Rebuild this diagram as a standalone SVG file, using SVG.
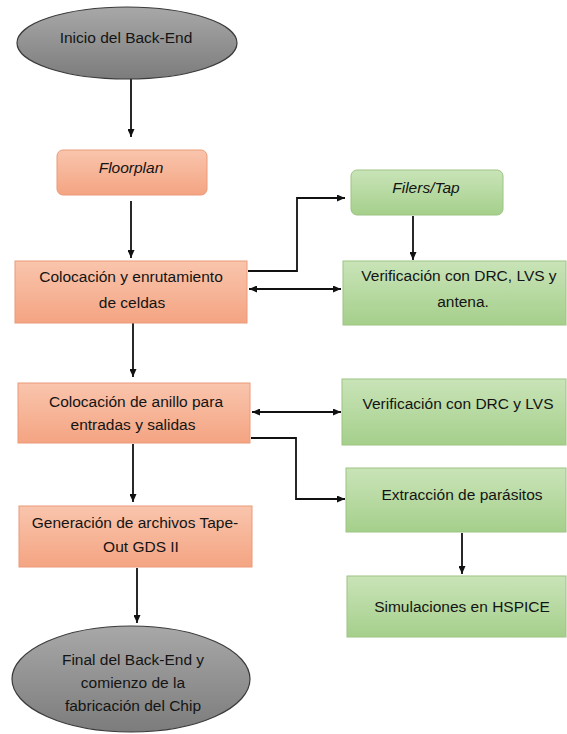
<svg xmlns="http://www.w3.org/2000/svg" width="567" height="734" viewBox="0 0 567 734">
<defs>
<linearGradient id="gGray" x1="0" y1="0" x2="0" y2="1"><stop offset="0" stop-color="#a8a8a8"/><stop offset="1" stop-color="#7c7c7c"/></linearGradient>
<linearGradient id="gSalmon" x1="0" y1="0" x2="0" y2="1"><stop offset="0" stop-color="#f9c5ad"/><stop offset="1" stop-color="#f4a482"/></linearGradient>
<linearGradient id="gGreen" x1="0" y1="0" x2="0" y2="1"><stop offset="0" stop-color="#c9e4b8"/><stop offset="1" stop-color="#a5cf8b"/></linearGradient>
<marker id="ah" viewBox="0 0 8 7" refX="8" refY="3.5" markerWidth="8" markerHeight="7" markerUnits="userSpaceOnUse" orient="auto-start-reverse"><path d="M0,0 L8,3.5 L0,7 z" fill="#111"/></marker>
</defs>
<style>
.t{font-family:"Liberation Sans",Arial,sans-serif;font-size:15.5px;fill:#141414;text-anchor:middle}
.i{font-style:italic}
.ell{fill:url(#gGray);stroke:#3a3a3a;stroke-width:1.2}
.sal{fill:url(#gSalmon);stroke:#eb9a78;stroke-width:1}
.grn{fill:url(#gGreen);stroke:#9cc482;stroke-width:1}
.c{fill:none;stroke:#111;stroke-width:1.8}
</style>
<g id="connectors">
<path class="c" d="M131,78 V137" marker-end="url(#ah)"/>
<path class="c" d="M131,201 V258" marker-end="url(#ah)"/>
<path class="c" d="M133,323 V377" marker-end="url(#ah)"/>
<path class="c" d="M133,444 V502" marker-end="url(#ah)"/>
<path class="c" d="M137,568 V623" marker-end="url(#ah)"/>
<path class="c" d="M248,271 H297 V198 H345" marker-end="url(#ah)"/>
<path class="c" d="M249,289 H341" marker-start="url(#ah)" marker-end="url(#ah)"/>
<path class="c" d="M413,216 V260" marker-end="url(#ah)"/>
<path class="c" d="M252,412 H341" marker-start="url(#ah)" marker-end="url(#ah)"/>
<path class="c" d="M251,438 H296 V499 H345" marker-end="url(#ah)"/>
<path class="c" d="M462,533 V574" marker-end="url(#ah)"/>
</g>
<g id="inicio">
<ellipse class="ell" cx="127" cy="43" rx="110" ry="36"/>
<text class="t" x="126" y="43">Inicio del Back-End</text>
</g>
<g id="floorplan">
<rect class="sal" x="57" y="150" width="150" height="45" rx="6"/>
<text class="t i" x="131" y="173">Floorplan</text>
</g>
<g id="colocacion1">
<rect class="sal" x="15" y="261" width="232" height="62"/>
<text class="t" x="131" y="282">Colocación y enrutamiento</text>
<text class="t" x="132" y="308">de celdas</text>
</g>
<g id="colocacion2">
<rect class="sal" x="18" y="383" width="232" height="60"/>
<text class="t" x="136" y="407">Colocación de anillo para</text>
<text class="t" x="133" y="430">entradas y salidas</text>
</g>
<g id="generacion">
<rect class="sal" x="19" y="506" width="233" height="61"/>
<text class="t" x="135" y="528">Generación de archivos Tape-</text>
<text class="t" x="141" y="552">Out GDS II</text>
</g>
<g id="final">
<ellipse class="ell" cx="131" cy="679" rx="119" ry="53"/>
<text class="t" x="133" y="665">Final del Back-End y</text>
<text class="t" x="133" y="688">comienzo de la</text>
<text class="t" x="133" y="711">fabricación del Chip</text>
</g>
<g id="filers">
<rect class="grn" x="351" y="170" width="152" height="45" rx="6"/>
<text class="t i" x="426" y="193">Filers/Tap</text>
</g>
<g id="verif1">
<rect class="grn" x="343" y="261" width="223" height="64"/>
<text class="t" x="459" y="281">Verificación con DRC, LVS y</text>
<text class="t" x="463" y="307">antena.</text>
</g>
<g id="verif2">
<rect class="grn" x="342" y="379" width="224" height="66"/>
<text class="t" x="458" y="409">Verificación con DRC y LVS</text>
</g>
<g id="extraccion">
<rect class="grn" x="346" y="468" width="220" height="64"/>
<text class="t" x="462" y="500">Extracción de parásitos</text>
</g>
<g id="simulaciones">
<rect class="grn" x="347" y="576" width="219" height="61"/>
<text class="t" x="462" y="612">Simulaciones en HSPICE</text>
</g>
</svg>
